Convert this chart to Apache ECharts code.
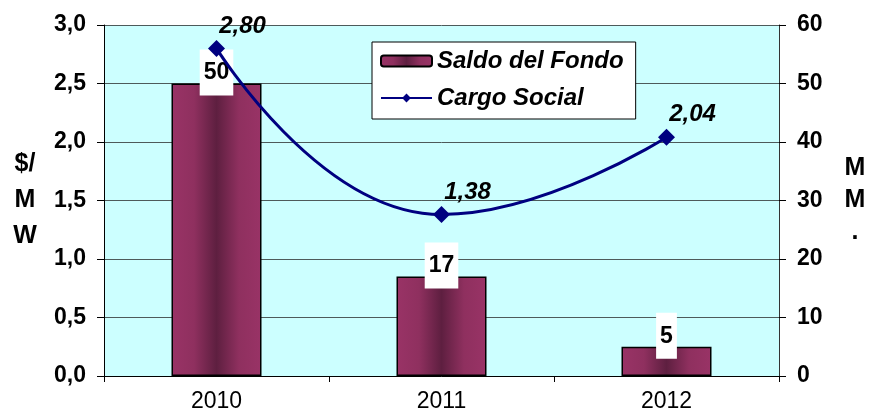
<!DOCTYPE html>
<html>
<head>
<meta charset="utf-8">
<script src="https://cdn.jsdelivr.net/npm/echarts@6/dist/echarts.min.js"></script>
<style>
  html, body { margin: 0; padding: 0; background: #ffffff; }
  #chart { width: 869px; height: 418px; }
</style>
</head>
<body>
<div id="chart"></div>
<script>
// datos del grafico
var years = ['2010', '2011', '2012'];
var saldoFondo = [50, 17, 5];          // MM (eje derecho)
var cargoSocial = [2.80, 1.38, 2.04];  // $/MW (eje izquierdo)

var chart = echarts.init(document.getElementById('chart'));

function coma(v, d) {
  return v.toFixed(d).replace('.', ',');
}

var font = 'Liberation Sans, Arial, sans-serif';

var option = {
  backgroundColor: '#ffffff',
  animation: false,
  textStyle: { fontFamily: font },
  grid: {
    left: 104,
    right: 90,
    top: 25,
    bottom: 42,
    show: true,
    backgroundColor: '#CCFFFF',
    borderWidth: 0
  },
  legend: {
    orient: 'vertical',
    left: 372,
    top: 42,
    padding: [7, 12, 9, 8],
    itemGap: 13,
    itemWidth: 51,
    itemHeight: 11,
    backgroundColor: '#ffffff',
    borderColor: '#000000',
    borderWidth: 1,
    textStyle: {
      fontSize: 24,
      fontStyle: 'italic',
      fontWeight: 'bold',
      color: '#000000',
      fontFamily: font
    },
    data: ['Saldo del Fondo', 'Cargo Social']
  },
  xAxis: {
    type: 'category',
    data: years,
    axisLine: { lineStyle: { color: '#000000', width: 1 } },
    axisTick: { show: true, length: 6, lineStyle: { color: '#000000' } },
    axisLabel: { fontSize: 23, color: '#000000', margin: 14, fontFamily: font }
  },
  yAxis: [
    {
      type: 'value',
      min: 0,
      max: 3,
      interval: 0.5,
      position: 'left',
      name: '$/\nM\nW',
      nameLocation: 'middle',
      nameRotate: 0,
      nameGap: 79,
      nameTextStyle: {
        fontSize: 25,
        fontWeight: 'bold',
        color: '#000000',
        lineHeight: 36,
        align: 'center',
        fontFamily: font
      },
      axisLine: { show: true, lineStyle: { color: '#000000' } },
      axisTick: { show: true, length: 7, lineStyle: { color: '#000000' } },
      axisLabel: {
        fontSize: 23,
        fontWeight: 'bold',
        color: '#000000',
        margin: 18,
        fontFamily: font,
        formatter: function (v) { return coma(v, 1); }
      },
      splitLine: { show: true, lineStyle: { color: '#4d5a5a', width: 1 } }
    },
    {
      type: 'value',
      min: 0,
      max: 60,
      interval: 10,
      position: 'right',
      name: 'M\nM\n.',
      nameLocation: 'middle',
      nameRotate: 0,
      nameGap: 76,
      nameTextStyle: {
        fontSize: 25,
        fontWeight: 'bold',
        color: '#000000',
        lineHeight: 32,
        align: 'center',
        fontFamily: font
      },
      axisLine: { show: true, lineStyle: { color: '#333333' } },
      axisTick: { show: true, length: 7, lineStyle: { color: '#000000' } },
      axisLabel: {
        fontSize: 23,
        fontWeight: 'bold',
        color: '#000000',
        margin: 18,
        fontFamily: font
      },
      splitLine: { show: false }
    }
  ],
  series: [
    {
      name: 'Saldo del Fondo',
      type: 'bar',
      yAxisIndex: 1,
      barWidth: '40%',
      data: saldoFondo,
      itemStyle: {
        color: {
          type: 'linear', x: 0, y: 0, x2: 1, y2: 0,
          colorStops: [
            { offset: 0, color: '#993366' },
            { offset: 0.25, color: '#8f305f' },
            { offset: 0.5, color: '#5e1f40' },
            { offset: 0.75, color: '#8f305f' },
            { offset: 1, color: '#993366' }
          ]
        },
        borderColor: '#000000',
        borderWidth: 1.5
      },
      label: {
        show: true,
        position: 'top',
        distance: -12,
        fontSize: 23,
        fontWeight: 'bold',
        color: '#000000',
        backgroundColor: '#ffffff',
        padding: [12, 4, 11, 4],
        fontFamily: font
      },
      z: 2
    },
    {
      name: 'Cargo Social',
      type: 'line',
      yAxisIndex: 0,
      data: cargoSocial,
      smooth: 0.5,
      symbol: 'diamond',
      symbolSize: 17,
      lineStyle: { color: '#000080', width: 3 },
      itemStyle: { color: '#000080' },
      label: {
        show: true,
        position: 'top',
        distance: 5,
        offset: [26, 3],
        fontSize: 24,
        fontWeight: 'bold',
        fontStyle: 'italic',
        color: '#000000',
        fontFamily: font,
        formatter: function (p) { return coma(p.value, 2); }
      },
      z: 3
    }
  ]
};

chart.setOption(option);
</script>
</body>
</html>
